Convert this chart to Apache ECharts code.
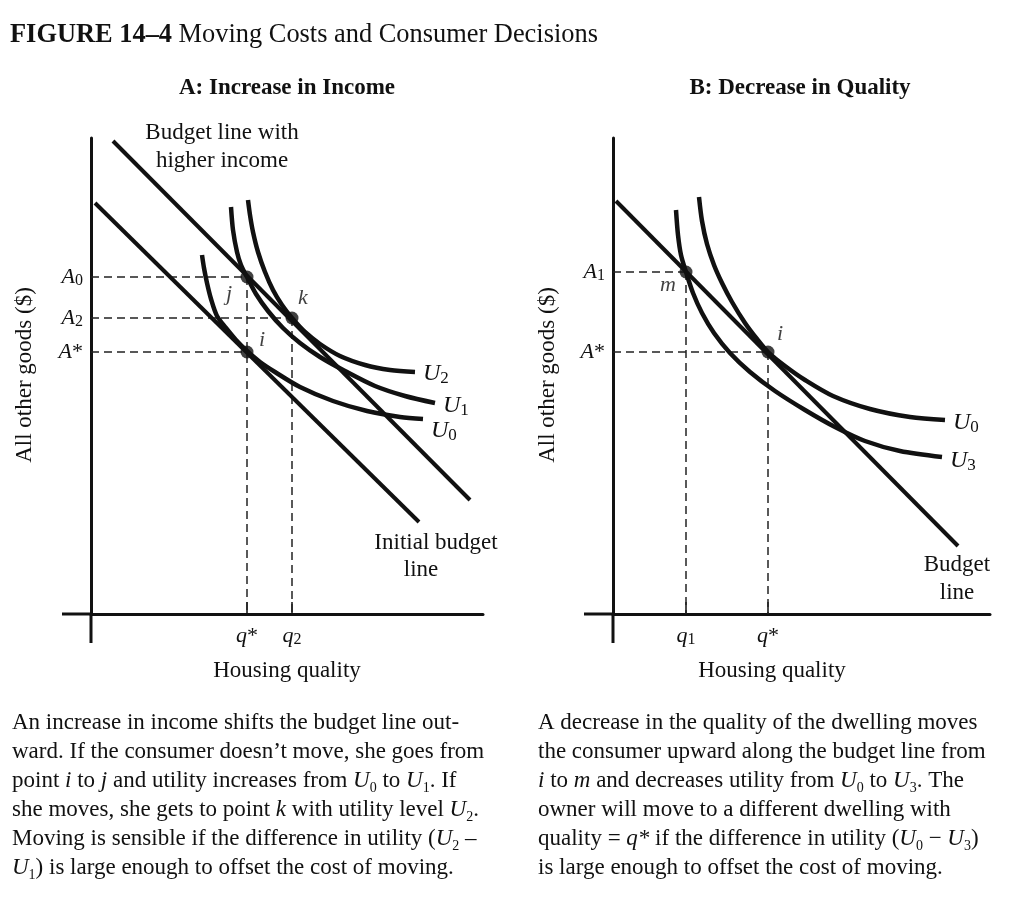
<!DOCTYPE html>
<html><head><meta charset="utf-8">
<script src="https://cdn.jsdelivr.net/npm/echarts@6/dist/echarts.min.js"></script>
<style>html,body{margin:0;padding:0;background:#fff}#c{width:1024px;height:900px}</style>
</head><body><div id="c"></div>
<script>
// ---------- Panel A: Increase in Income (housing quality, all other goods) ----------
const aRangeX = [0, 392];
const aRangeY = [0, 476];
const aInitialBudget = [[4, 411], [328, 92]];
const aHigherBudget = [[22, 473], [379, 114]];
const aU0 = [[111,359],[113,346],[116,331],[120,315],[126,298],[135,286],[145,274],[156,263],[169,252],[184,242],[209,227],[242,213],[276,203],[309,197],[332,195]];
const aU1 = [[140,407],[142,384],[146,362],[150,349],[156,337],[165,320],[177,303],[192,286],[209,271],[229,257],[254,243],[284,228],[314,218],[344,211]];
const aU2 = [[157,414],[159,399],[162,382],[167,362],[174,342],[182,324],[191,309],[201,296],[214,282],[229,270],[249,258],[274,249],[299,244],[324,242]];
const aPointNames = ['j', 'k', 'i'];
const aPointQ = [156, 201, 156];
const aPointA = [337, 296, 262];
const aQTicks = [156, 201];
const aQLabels = ['q*', 'q2'];
const aATicks = [337, 296, 262];
const aALabels = ['A0', 'A2', 'A*'];

// ---------- Panel B: Decrease in Quality ----------
const bRangeX = [0, 377];
const bRangeY = [0, 476];
const bBudget = [[3, 413], [345, 68]];
const bU0 = [[86,417],[89,393],[94,370],[101,349],[109,331],[119,312],[132,291],[144,275],[155,262],[172,248],[192,234],[220,218],[257,205],[297,197],[332,194]];
const bU3 = [[63,404],[65,379],[68,359],[73,342],[80,321],[89,301],[101,281],[117,261],[137,242],[162,223],[192,204],[222,187],[252,173],[287,163],[329,157]];
const bPointNames = ['m', 'i'];
const bPointQ = [73, 155];
const bPointA = [342, 262];
const bQTicks = [73, 155];
const bQLabels = ['q1', 'q*'];
const bATicks = [342, 262];
const bALabels = ['A1', 'A*'];

// axes cross and run a little past the origin
const axisOvershoot = 29;

// ---------- Text ----------
const figTitleBold = 'FIGURE 14–4';
const figTitleRest = 'Moving Costs and Consumer Decisions';
const panelTitles = ['A: Increase in Income', 'B: Decrease in Quality'];
const yName = 'All other goods ($)';
const xName = 'Housing quality';
const captionA = [
  'An increase in income shifts the budget line out-',
  'ward. If the consumer doesn’t move, she goes from',
  'point {it|i} to {it|j} and utility increases from {it|U}{sub|0} to {it|U}{sub|1}. If',
  'she moves, she gets to point {it|k} with utility level {it|U}{sub|2}.',
  'Moving is sensible if the difference in utility ({it|U}{sub|2} –',
  '{it|U}{sub|1}) is large enough to offset the cost of moving.'
];
const captionB = [
  'A decrease in the quality of the dwelling moves',
  'the consumer upward along the budget line from',
  '{it|i} to {it|m} and decreases utility from {it|U}{sub|0} to {it|U}{sub|3}. The',
  'owner will move to a different dwelling with',
  'quality = {it|q*} if the difference in utility ({it|U}{sub|0} − {it|U}{sub|3})',
  'is large enough to offset the cost of moving.'
];

// ---------- helpers ----------
const FF = '"Liberation Serif", "Times New Roman", serif';
const INK = '#111';
function sym(label) {
  let s = '{it|' + label[0] + '}';
  const rest = label.slice(1);
  if (rest) s += /\d/.test(rest) ? '{sub|' + rest + '}' : '{n|' + rest + '}';
  return s;
}
function symRich(size, subSize) {
  return {
    it: {fontFamily: FF, fontStyle: 'italic', fontSize: size, color: INK, lineHeight: size + 2},
    n: {fontFamily: FF, fontSize: size, color: INK, lineHeight: size + 2},
    sub: {fontFamily: FF, fontSize: subSize, color: INK, verticalAlign: 'bottom', lineHeight: subSize - 2}
  };
}
function axisPair(gi, xr, yr, qT, qL, aT, aL) {
  const xAxis = {
    gridIndex: gi, type: 'value', min: xr[0], max: xr[1],
    axisLine: {onZero: false, lineStyle: {color: INK, width: 3}},
    axisTick: {show: true, customValues: qT, inside: true, length: 12, lineStyle: {color: INK, width: 1.5}},
    axisLabel: {customValues: qT, margin: 10, formatter: v => sym(qL[qT.indexOf(v)]), rich: symRich(22, 16)},
    splitLine: {show: false}
  };
  const yAxis = {
    gridIndex: gi, type: 'value', min: yr[0], max: yr[1],
    axisLine: {onZero: false, lineStyle: {color: INK, width: 3}},
    axisTick: {show: false},
    axisLabel: {customValues: aT, margin: 8, formatter: v => sym(aL[aT.indexOf(v)]), rich: symRich(22, 16)},
    splitLine: {show: false}
  };
  return [xAxis, yAxis];
}
// the two stubs of the axes that run past the origin (left of the y axis, below the x axis)
function overshoot(gi) {
  return {
    type: 'custom', xAxisIndex: gi, yAxisIndex: gi, silent: true, animation: false, clip: false, z: 2,
    data: [[-axisOvershoot, 0, 0, 0], [0, 0, 0, -axisOvershoot]],
    renderItem: function (params, api) {
      const p0 = api.coord([api.value(0), api.value(1)]);
      const p1 = api.coord([api.value(2), api.value(3)]);
      return {type: 'line', shape: {x1: p0[0], y1: p0[1], x2: p1[0], y2: p1[1]},
        style: {stroke: INK, lineWidth: 3}};
    }
  };
}
function curve(gi, data, width, labelText, off) {
  const s = {
    type: 'line', xAxisIndex: gi, yAxisIndex: gi, data: data, symbol: 'none', smooth: 0.3,
    lineStyle: {color: INK, width: width}, z: 3, silent: true, animation: false
  };
  if (labelText) {
    s.endLabel = {show: true, formatter: () => sym(labelText), distance: 8, offset: off, rich: symRich(24, 17)};
  }
  return s;
}
function dashed(gi, names, qs, as) {
  const out = [];
  const topQ = {};
  const style = {color: '#222', width: 1.5, type: [8, 5]};
  names.forEach((n, k) => {
    out.push({type: 'line', xAxisIndex: gi, yAxisIndex: gi, data: [[0, as[k]], [qs[k], as[k]]], symbol: 'none',
      lineStyle: style, z: 1, silent: true, animation: false});
    if (topQ[qs[k]] === undefined || topQ[qs[k]] < as[k]) topQ[qs[k]] = as[k];
  });
  Object.keys(topQ).forEach(q => {
    out.push({type: 'line', xAxisIndex: gi, yAxisIndex: gi, data: [[+q, topQ[q]], [+q, 0]], symbol: 'none',
      lineStyle: style, z: 1, silent: true, animation: false});
  });
  return out;
}
function dots(gi, names, qs, as, offsets) {
  return {
    type: 'scatter', xAxisIndex: gi, yAxisIndex: gi, symbolSize: 13, z: 5, silent: true, animation: false,
    itemStyle: {color: INK},
    data: names.map((n, k) => ({
      value: [qs[k], as[k]], name: n,
      label: {show: true, position: 'inside', offset: offsets[k], formatter: '{it|' + n + '}',
        color: INK, textBorderWidth: 0, rich: symRich(22, 16)}
    }))
  };
}

const [ax0, ay0] = axisPair(0, aRangeX, aRangeY, aQTicks, aQLabels, aATicks, aALabels);
const [ax1, ay1] = axisPair(1, bRangeX, bRangeY, bQTicks, bQLabels, bATicks, bALabels);

const series = [].concat(
  [overshoot(0)],
  dashed(0, aPointNames, aPointQ, aPointA),
  [curve(0, aInitialBudget, 4), curve(0, aHigherBudget, 4),
   curve(0, aU0, 4.5, 'U0', [0, 12]), curve(0, aU1, 4.5, 'U1', [0, 3]), curve(0, aU2, 4.5, 'U2', [0, 2]),
   dots(0, aPointNames, aPointQ, aPointA, [[-18, 17], [11, -20], [15, -12]])],
  [overshoot(1)],
  dashed(1, bPointNames, bPointQ, bPointA),
  [curve(1, bBudget, 4),
   curve(1, bU0, 4.5, 'U0', [0, 3]), curve(1, bU3, 4.5, 'U3', [0, 4]),
   dots(1, bPointNames, bPointQ, bPointA, [[-18, 13], [12, -18]])]
);

const capRich = {
  it: {fontFamily: FF, fontStyle: 'italic', fontSize: 23, lineHeight: 29, fill: INK},
  sub: {fontFamily: FF, fontSize: 14, verticalAlign: 'bottom', lineHeight: 14, fill: INK}
};
function txt(text, x, y, opts) {
  return {type: 'text', x: x, y: y, silent: true, style: Object.assign({
    text: text, fontFamily: FF, fontSize: 23, fill: INK, textAlign: 'center', textVerticalAlign: 'middle'
  }, opts || {})};
}

const graphic = [
  {type: 'text', x: 10, y: 35, silent: true, style: {
    text: '{b|' + figTitleBold + '} ' + figTitleRest, fontFamily: FF, fontSize: 26.4, fill: INK,
    textAlign: 'left', textVerticalAlign: 'middle',
    rich: {b: {fontFamily: FF, fontSize: 26.4, fontWeight: 'bold', fill: INK}}
  }},
  txt(panelTitles[0], 287, 88, {fontWeight: 'bold'}),
  txt(panelTitles[1], 800, 88, {fontWeight: 'bold'}),
  Object.assign(txt(yName, 25, 375), {rotation: Math.PI / 2}),
  Object.assign(txt(yName, 548, 375), {rotation: Math.PI / 2}),
  txt(xName, 287, 671),
  txt(xName, 772, 671),
  txt('Budget line with', 222, 133),
  txt('higher income', 222, 161),
  txt('Initial budget', 436, 543),
  txt('line', 421, 570),
  txt('Budget', 957, 565),
  txt('line', 957, 593),
  {type: 'text', x: 12, y: 708, silent: true, style: {
    text: captionA.join('\n'), fontFamily: FF, fontSize: 23, lineHeight: 29, fill: INK,
    textAlign: 'left', textVerticalAlign: 'top', rich: capRich}},
  {type: 'text', x: 538, y: 708, silent: true, style: {
    text: captionB.join('\n'), fontFamily: FF, fontSize: 23, lineHeight: 29, fill: INK,
    textAlign: 'left', textVerticalAlign: 'top', rich: capRich}}
];

const chart = echarts.init(document.getElementById('c'), null, {renderer: 'canvas'});
chart.setOption({
  backgroundColor: '#fff',
  animation: false,
  grid: [
    {left: 91, top: 138, width: 392, height: 476},
    {left: 613, top: 138, width: 377, height: 476}
  ],
  xAxis: [ax0, ax1],
  yAxis: [ay0, ay1],
  series: series,
  graphic: graphic
});
</script></body></html>
